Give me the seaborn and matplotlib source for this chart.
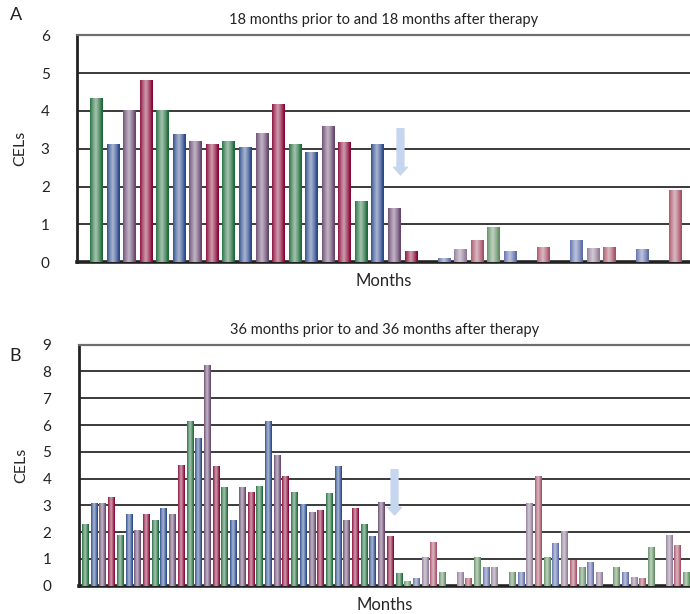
import numpy as np
import pandas as pd
import matplotlib
matplotlib.use("Agg")
import matplotlib.pyplot as plt
import seaborn as sns
from matplotlib.colors import to_rgb

# CELs per month, panel A (18 months prior / after therapy)
a_before = [4.32, 3.10, 4.00, 4.79, 4.00, 3.37, 3.18, 3.10, 3.18, 3.02,
            3.39, 4.16, 3.10, 2.89, 3.58, 3.15, 1.59, 3.10, 1.41, 0.27]
a_after = [0, 0.09, 0.33, 0.56, 0.91, 0.27, 0, 0.38,
           0, 0.56, 0.35, 0.38, 0, 0.33, 0, 1.89]

# panel B (36 months prior / after therapy)
b_before = [2.28, 3.08, 3.08, 3.30, 1.90, 2.66, 2.09, 2.66, 2.43, 2.89,
            2.66, 4.51, 6.14, 5.49, 8.23, 4.47, 3.68, 2.43, 3.68, 3.49,
            3.71, 6.14, 4.89, 4.09, 3.49, 3.04, 2.74, 2.81, 3.45, 4.47,
            2.43, 2.89, 2.28, 1.86, 3.11, 1.86, 0.46]
b_after = [0.16, 0.29, 1.07, 1.64, 0.49, 0, 0.49, 0.29, 1.07, 0.70,
           0.70, 0, 0.49, 0.49, 3.08, 4.09, 1.07, 1.60, 2.05, 0.97,
           0.70, 0.89, 0.49, 0, 0.70, 0.49, 0.33, 0.29, 1.45, 0,
           1.90, 1.53, 0.49]

cycle = ["green", "blue", "purple", "red"]
pal = {
    "before green": "#1d6a38", "before blue": "#27478a",
    "before purple": "#66466e", "before red": "#860634",
    "after green": "#5f8c60", "after blue": "#5b6ba8",
    "after purple": "#8e7a95", "after red": "#a54e64",
}


def make_df(before, after):
    rows = []
    for period, vals in (("before", before), ("after", after)):
        for j, v in enumerate(vals):
            rows.append((period + " " + cycle[j % 4], v))
    df = pd.DataFrame(rows, columns=["col", "cels"])
    df["pos"] = np.arange(len(df))
    return df


def shade(ax):
    # cylinder-like shading on every bar
    t = np.linspace(0, 1, 64)
    prof = np.clip(1 - np.abs(t - 0.45) / 0.47, 0, 1) ** 0.8
    for p in list(ax.patches):
        h = p.get_height()
        if not np.isfinite(h) or h <= 0:
            continue
        c = np.array(to_rgb(p.get_facecolor()))
        light = c + (1 - c) * 0.6
        img = c[None, :] * (1 - prof[:, None]) + light[None, :] * prof[:, None]
        x0 = p.get_x()
        ax.imshow(img[None, :, :], extent=(x0, x0 + p.get_width(), 0, h),
                  aspect="auto", zorder=3, interpolation="bilinear")


sns.set_style("white")
plt.rcParams["font.family"] = ["Lato", "DejaVu Sans"]
plt.rcParams["text.color"] = "#222222"

fig = plt.figure(figsize=(6.9, 6.14), dpi=100)
ax1 = fig.add_axes([0.1123, 0.5728, 0.8877, 0.3697])
ax2 = fig.add_axes([0.1145, 0.0461, 0.8855, 0.3925])

panels = [
    (ax1, make_df(a_before, a_after), 0.785, 6, (-1.15, 35.85),
     "18 months prior to and 18 months after therapy", (18.36, 3.53, 2.31)),
    (ax2, make_df(b_before, b_after), 0.80, 9, (-0.75, 69.4),
     "36 months prior to and 36 months after therapy", (35.48, 4.33, 2.64)),
]

for ax, df, w, ymax, xl, title, arr in panels:
    sns.barplot(data=df, x="pos", y="cels", hue="col", palette=pal,
                dodge=False, width=w, legend=False, saturation=1,
                linewidth=0, ax=ax, zorder=2)
    shade(ax)
    ax.set_xlim(*xl)
    ax.set_ylim(0, ymax)
    ax.set_yticks(range(ymax + 1))
    ax.set_xticks([])
    ax.yaxis.grid(True, color="#3a3a3a", lw=1.4)
    ax.set_axisbelow(True)
    ax.tick_params(axis="y", length=0, pad=20, labelsize=11, labelcolor="#222222")
    for s in ["left", "bottom"]:
        ax.spines[s].set_color("#222222")
    ax.spines["left"].set_linewidth(2)
    ax.spines["bottom"].set_linewidth(2.6)
    ax.spines["top"].set_color("#6e6e6e")
    ax.spines["top"].set_linewidth(1.6)
    ax.spines["right"].set_visible(False)
    ax.set_title(title, fontsize=10.5, pad=8)
    ax.set_xlabel("Months", fontsize=12, labelpad=8)
    ax.set_ylabel("CELs", fontsize=11.5, labelpad=10)
    x, y0, y1 = arr
    ax.annotate("", xy=(x, y1), xytext=(x, y0),
                arrowprops=dict(arrowstyle="simple,head_length=0.5,head_width=0.9,tail_width=0.45",
                                color="#c6d6ef", mutation_scale=11, shrinkA=0, shrinkB=0),
                zorder=5)

fig.text(0.014, 0.975, "A", fontsize=13, va="center")
fig.text(0.014, 0.42, "B", fontsize=13, va="center")

fig.savefig("out.png", dpi=100)
